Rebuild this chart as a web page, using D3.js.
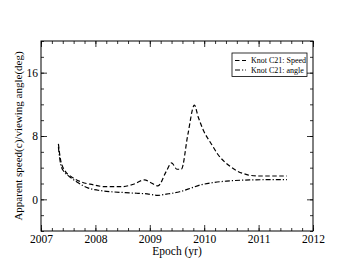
<!DOCTYPE html>
<html>
<head>
<meta charset="utf-8">
<script src="https://cdn.jsdelivr.net/npm/d3@7"></script>
<style>
  body { margin: 0; background: #fff; }
  text { font-family: "Liberation Serif", "DejaVu Serif", serif; fill: #000; }
</style>
</head>
<body>
<script>
// size of the page
let w = 353;
let h = 273;

// speed curve (c)
let speedYears = [2007.32, 2007.36, 2007.44, 2007.55, 2007.74, 2007.95, 2008.17, 2008.48, 2008.70, 2008.90,
                  2009.02, 2009.15, 2009.30, 2009.40, 2009.50, 2009.58, 2009.70, 2009.82, 2009.89, 2009.98,
                  2010.14, 2010.26, 2010.45, 2010.60, 2010.80, 2010.97, 2011.52];
let speedValues = [7.0, 5.0, 3.6, 2.9, 2.2, 1.85, 1.6, 1.6, 1.9, 2.45,
                   2.1, 1.7, 3.5, 4.6, 3.8, 3.8, 8.2, 11.9, 10.4, 8.8,
                   6.9, 5.6, 4.3, 3.6, 3.1, 2.95, 2.95];

// viewing angle curve (deg)
let angleYears = [2007.32, 2007.36, 2007.42, 2007.50, 2007.66, 2007.86, 2008.05, 2008.29, 2008.55, 2008.78,
                  2008.95, 2009.15, 2009.30, 2009.55, 2009.75, 2009.92, 2010.15, 2010.41, 2010.84, 2011.52];
let angleValues = [6.6, 4.5, 3.5, 3.0, 2.2, 1.45, 1.15, 0.96, 0.85, 0.76,
                   0.7, 0.5, 0.65, 0.96, 1.4, 1.8, 2.1, 2.3, 2.45, 2.5];

let xTicks = [2007, 2008, 2009, 2010, 2011, 2012];
let yTicks = [0, 8, 16];
let legendNames = ["Knot C21: Speed", "Knot C21: angle"];

let margin = { left: 41, right: 40, top: 41, bottom: 42 };

let x = d3.scaleLinear().domain([2007, 2012]).range([margin.left, w - margin.right]);
let y = d3.scaleLinear().domain([-4, 20]).range([h - margin.bottom, margin.top]);

let svg = d3.select("body").append("svg")
    .attr("width", w)
    .attr("height", h);

// minor ticks every 0.2 yr / 2 units
let xMinor = d3.range(2007, 2012.001, 0.2);
let yMinor = d3.range(-4, 20.001, 2);

// axes with ticks pointing inward, on all four sides
function axisStyle(g) {
    g.select(".domain").remove();
    g.selectAll("line").attr("stroke", "#000").attr("stroke-width", 0.8);
    g.selectAll("text").style("font-size", "11.5px");
}

// bottom
svg.append("g").attr("transform", "translate(0," + y.range()[0] + ")")
    .call(d3.axisBottom(x).tickValues(xMinor).tickSize(-3).tickFormat(""))
    .call(axisStyle);
svg.append("g").attr("transform", "translate(0," + y.range()[0] + ")")
    .call(d3.axisBottom(x).tickValues(xTicks).tickSize(-6).tickPadding(4).tickFormat(d3.format("d")))
    .call(axisStyle);
// top
svg.append("g").attr("transform", "translate(0," + y.range()[1] + ")")
    .call(d3.axisTop(x).tickValues(xMinor).tickSize(-3).tickFormat(""))
    .call(axisStyle);
svg.append("g").attr("transform", "translate(0," + y.range()[1] + ")")
    .call(d3.axisTop(x).tickValues(xTicks).tickSize(-6).tickFormat(""))
    .call(axisStyle);
// left
svg.append("g").attr("transform", "translate(" + x.range()[0] + ",0)")
    .call(d3.axisLeft(y).tickValues(yMinor).tickSize(-3).tickFormat(""))
    .call(axisStyle);
svg.append("g").attr("transform", "translate(" + x.range()[0] + ",0)")
    .call(d3.axisLeft(y).tickValues(yTicks).tickSize(-6).tickPadding(3))
    .call(axisStyle);
// right
svg.append("g").attr("transform", "translate(" + x.range()[1] + ",0)")
    .call(d3.axisRight(y).tickValues(yMinor).tickSize(-3).tickFormat(""))
    .call(axisStyle);
svg.append("g").attr("transform", "translate(" + x.range()[1] + ",0)")
    .call(d3.axisRight(y).tickValues(yTicks).tickSize(-6).tickFormat(""))
    .call(axisStyle);

// frame
svg.append("rect")
    .attr("x", x.range()[0])
    .attr("y", y.range()[1])
    .attr("width", x.range()[1] - x.range()[0])
    .attr("height", y.range()[0] - y.range()[1])
    .attr("fill", "none")
    .attr("stroke", "#000")
    .attr("stroke-width", 1);

// curves
let line = d3.line()
    .x(function(d) { return x(d[0]); })
    .y(function(d) { return y(d[1]); })
    .curve(d3.curveMonotoneX);

let speed = d3.zip(speedYears, speedValues);
let angle = d3.zip(angleYears, angleValues);

svg.append("path").datum(speed)
    .attr("d", line)
    .attr("fill", "none")
    .attr("stroke", "#000")
    .attr("stroke-width", 1.2)
    .attr("stroke-dasharray", "4.5,2.5");

svg.append("path").datum(angle)
    .attr("d", line)
    .attr("fill", "none")
    .attr("stroke", "#000")
    .attr("stroke-width", 1.2)
    .attr("stroke-dasharray", "5,2,1.2,2");

// axis titles
svg.append("text")
    .attr("x", (x.range()[0] + x.range()[1]) / 2)
    .attr("y", 255)
    .attr("text-anchor", "middle")
    .style("font-size", "11.5px")
    .text("Epoch (yr)");

svg.append("text")
    .attr("transform", "translate(22," + ((y.range()[0] + y.range()[1]) / 2) + ") rotate(-90)")
    .attr("text-anchor", "middle")
    .style("font-size", "11px")
    .text("Apparent speed(c)/viewing angle(deg)");

// legend
let lg = svg.append("g").attr("transform", "translate(232,53)");
lg.append("rect")
    .attr("width", 75)
    .attr("height", 23.5)
    .attr("fill", "#fff")
    .attr("stroke", "#000")
    .attr("stroke-width", 0.8);

let dashes = ["4.5,2.5", "5,2,1.2,2"];
legendNames.forEach(function(name, i) {
    let yy = 7.5 + i * 9.5;
    lg.append("line")
        .attr("x1", 3).attr("x2", 14)
        .attr("y1", yy).attr("y2", yy)
        .attr("stroke", "#000")
        .attr("stroke-width", 1.2)
        .attr("stroke-dasharray", dashes[i]);
    lg.append("text")
        .attr("x", 19)
        .attr("y", yy + 2.8)
        .style("font-size", "8px")
        .text(name);
});
</script>
</body>
</html>
